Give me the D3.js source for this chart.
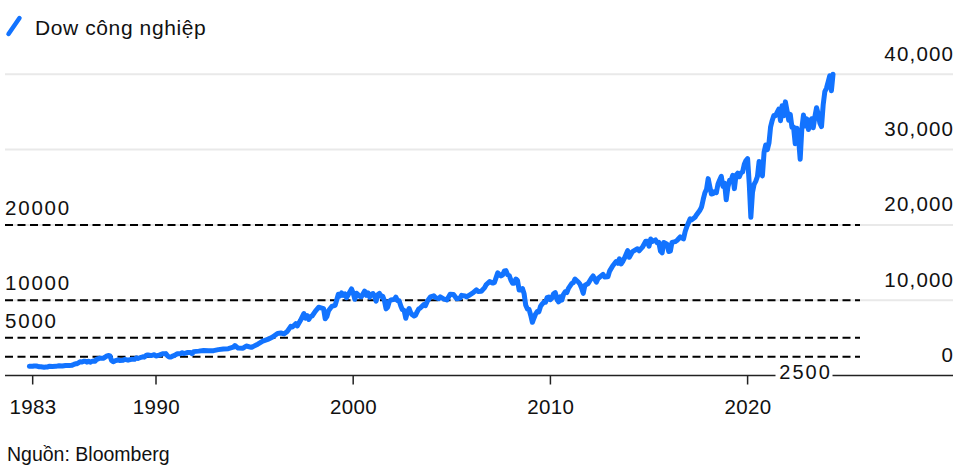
<!DOCTYPE html>
<html>
<head>
<meta charset="utf-8">
<script src="https://cdn.jsdelivr.net/npm/d3@7"></script>
<style>
  html, body { margin: 0; padding: 0; background: #fff; }
  svg { display: block; font-family: "Liberation Sans", Arial, Helvetica, sans-serif; }
</style>
</head>
<body>
<svg id="chart" width="975" height="474"></svg>
<script>
// ---- Data ----
const seriesName = "Dow công nghiệp";
const sourceText = "Nguồn: Bloomberg";

const months = [
  "1983-08","1983-09","1983-10","1983-11","1983-12",
  "1984-01","1984-02","1984-03","1984-05","1984-06","1984-07","1984-08","1984-10","1984-12",
  "1985-02","1985-04","1985-06","1985-08","1985-10","1985-11","1985-12",
  "1986-01","1986-02","1986-03","1986-04","1986-05","1986-06","1986-07","1986-08","1986-09","1986-10","1986-11","1986-12",
  "1987-01","1987-02","1987-03","1987-04","1987-05","1987-06","1987-07","1987-08","1987-09","1987-10","1987-11","1987-12",
  "1988-02","1988-03","1988-05","1988-06","1988-08","1988-10","1988-12",
  "1989-01","1989-02","1989-04","1989-05","1989-06","1989-07","1989-08","1989-09","1989-10","1989-12",
  "1990-01","1990-03","1990-05","1990-07","1990-08","1990-09","1990-10","1990-11","1990-12",
  "1991-02","1991-04","1991-05","1991-06","1991-08","1991-10","1991-11","1991-12",
  "1992-03","1992-06","1992-09","1992-12",
  "1993-03","1993-06","1993-09","1993-12",
  "1994-01","1994-03","1994-06","1994-08","1994-11","1994-12",
  "1995-03","1995-06","1995-09","1995-12",
  "1996-03","1996-05","1996-07","1996-09","1996-11","1996-12",
  "1997-02","1997-03","1997-05","1997-07","1997-08","1997-09","1997-10","1997-11","1997-12",
  "1998-02","1998-04","1998-06","1998-07","1998-08","1998-09","1998-10","1998-12",
  "1999-02","1999-04","1999-05","1999-06","1999-07","1999-08","1999-09","1999-10","1999-12",
  "2000-01","2000-02","2000-03","2000-04","2000-05","2000-06","2000-08","2000-09","2000-10","2000-11","2000-12",
  "2001-01","2001-02","2001-03","2001-04","2001-05","2001-06","2001-07","2001-08","2001-09","2001-10","2001-11","2001-12",
  "2002-02","2002-03","2002-04","2002-05","2002-06","2002-07","2002-08","2002-09","2002-10","2002-11","2002-12",
  "2003-01","2003-02","2003-03","2003-04","2003-05","2003-06","2003-08","2003-09","2003-10","2003-12",
  "2004-02","2004-03","2004-05","2004-06","2004-08","2004-10","2004-12",
  "2005-02","2005-04","2005-06","2005-07","2005-09","2005-10","2005-12",
  "2006-02","2006-04","2006-05","2006-07","2006-09","2006-10","2006-12",
  "2007-02","2007-03","2007-05","2007-07","2007-08","2007-09","2007-10","2007-11","2007-12",
  "2008-01","2008-02","2008-03","2008-04","2008-05","2008-06","2008-07","2008-08","2008-09","2008-10","2008-11","2008-12",
  "2009-01","2009-02","2009-03","2009-04","2009-05","2009-06","2009-07","2009-08","2009-09","2009-10","2009-11","2009-12",
  "2010-01","2010-02","2010-03","2010-04","2010-05","2010-06","2010-07","2010-08","2010-09","2010-10","2010-11","2010-12",
  "2011-02","2011-03","2011-04","2011-06","2011-07","2011-08","2011-09","2011-10","2011-12",
  "2012-02","2012-03","2012-05","2012-06","2012-09","2012-10","2012-12",
  "2013-01","2013-03","2013-05","2013-06","2013-07","2013-08","2013-09","2013-10","2013-12",
  "2014-01","2014-03","2014-06","2014-07","2014-09","2014-11","2014-12",
  "2015-01","2015-02","2015-03","2015-05","2015-06","2015-07","2015-08","2015-09","2015-10","2015-12",
  "2016-01","2016-02","2016-03","2016-05","2016-06","2016-08","2016-10","2016-11","2016-12",
  "2017-02","2017-03","2017-05","2017-06","2017-08","2017-09","2017-10","2017-11","2017-12",
  "2018-01","2018-02","2018-03","2018-04","2018-05","2018-06","2018-07","2018-08","2018-09","2018-10","2018-11","2018-12",
  "2019-01","2019-02","2019-03","2019-04","2019-05","2019-06","2019-07","2019-08","2019-09","2019-10","2019-11","2019-12",
  "2020-01","2020-02","2020-03","2020-04","2020-05","2020-06","2020-07","2020-08","2020-09","2020-10","2020-11","2020-12",
  "2021-01","2021-02","2021-03","2021-04","2021-05","2021-06","2021-07","2021-08","2021-09","2021-10","2021-11","2021-12",
  "2022-01","2022-02","2022-03","2022-04","2022-05","2022-06","2022-07","2022-08","2022-09","2022-10","2022-11","2022-12",
  "2023-01","2023-02","2023-03","2023-04","2023-05","2023-06","2023-07","2023-08","2023-09","2023-10","2023-11","2023-12",
  "2024-01","2024-02","2024-03","2024-04","2024-05"
];

const dowValues = [
  1216,1233,1225,1276,1258,
  1220,1155,1164,1105,1132,1115,1224,1207,1212,
  1284,1258,1336,1334,1374,1472,1547,
  1571,1709,1819,1784,1877,1893,1775,1898,1768,1878,1914,1896,
  2158,2224,2305,2286,2292,2419,2572,2663,2596,1994,1834,1939,
  2072,1988,2031,2142,2032,2149,2169,
  2342,2258,2419,2480,2440,2661,2737,2693,2645,2753,
  2591,2707,2877,2905,2614,2453,2442,2560,2634,
  2882,2888,3028,2907,3044,3069,2895,3169,
  3236,3319,3272,3301,
  3436,3516,3555,3754,
  3978,3636,3625,3913,3739,3834,
  4158,4556,4789,5117,
  5588,5643,5529,5882,6522,6448,
  6878,6583,7331,8223,7622,7945,7442,7823,7908,
  8546,9063,8952,8883,7539,7843,8592,9181,
  9307,10789,10560,10971,10655,10829,10337,10729,11497,
  10941,10128,10922,10734,10522,10448,11215,10651,10971,10415,10787,
  10887,10495,9879,10735,10912,10502,10523,9950,8848,9075,9852,10022,
  10106,10404,9946,9925,9243,8737,8664,7592,8397,8896,8342,
  8054,7891,7992,8480,8850,8985,9416,9275,9801,10454,
  10584,10358,10188,10435,10174,10027,10783,
  10766,10193,10275,10641,10569,10440,10718,
  10993,11367,11168,11185,11679,12081,12463,
  12269,12354,13628,13212,13358,13896,13930,13372,13265,
  12650,12266,12263,12820,12638,11350,11378,11544,10851,9325,8829,8776,
  8001,7063,7609,8168,8500,8447,9172,9496,9712,9713,10345,10428,
  10067,10325,10857,11009,10137,9774,10466,10015,10788,11118,11006,11578,
  12226,12320,12811,12414,12143,11614,10913,11955,12218,
  12952,13212,12393,12880,13437,13096,13104,
  13861,14579,15116,14910,15500,14810,15130,15546,16577,
  15699,16458,16827,16563,17043,17828,17823,
  17165,18133,17776,18011,17620,17690,16528,16285,17664,17425,
  16466,16517,17685,17787,17930,18401,18142,19124,19763,
  20812,20663,21009,21350,21948,22405,23377,24272,24719,
  26149,25029,24103,24163,24416,24271,25415,25965,26458,25116,25538,23327,
  25000,25916,25929,26593,24815,26600,26864,26403,26917,27046,28051,28538,
  28800,25409,21000,24346,25383,25813,26428,28430,27782,26502,29639,30606,
  29983,30932,32982,33875,34529,34503,34935,35361,33844,35820,34484,36338,
  35132,33893,34678,32977,32990,30775,32845,31510,28726,32733,34590,33147,
  34086,32657,33274,34098,32908,34408,35560,34722,33508,33053,35951,37690,
  38150,38996,39807,37816,40000
];

const yTicks = [0, 10000, 20000, 30000, 40000];
const xTickDates = ["1983-10", "1990-01", "2000-01", "2010-01", "2020-01"];
const xTickLabels = ["1983", "1990", "2000", "2010", "2020"];
const refLevels = [20000, 10000, 5000, 2500];
const refLabels = ["20000", "10000", "5000", "2500"];

// ---- Drawing ----
const svg = d3.select("#chart");
const parse = d3.utcParse("%Y-%m");
const data = months.map((m, i) => ({ date: parse(m), value: dowValues[i] }));

const x = d3.scaleUtc()
  .domain([parse("1990-01"), parse("2020-01")])
  .range([156, 747.6]);
const y = d3.scaleLinear().domain([0, 40000]).range([375.5, 74.3]);

const left = 5, right = 953, dashEnd = 860;
const blue = "#1273ff";
const ink = "#111";

// gridlines
svg.append("g").selectAll("line")
  .data(yTicks.filter(d => d !== 0))
  .join("line")
  .attr("x1", left).attr("x2", right)
  .attr("y1", d => y(d)).attr("y2", d => y(d))
  .attr("stroke", "#e9e9e9").attr("stroke-width", 2);

// right value labels
svg.append("g").selectAll("text")
  .data(yTicks)
  .join("text")
  .attr("x", right + 1.2)
  .attr("y", d => y(d) - 13.5)
  .attr("text-anchor", "end")
  .attr("font-size", 20.5)
  .attr("letter-spacing", 1.2)
  .attr("fill", ink)
  .text(d => d3.format(",")(d));

// dashed reference lines
svg.append("g").selectAll("line")
  .data(refLevels)
  .join("line")
  .attr("x1", left).attr("x2", dashEnd)
  .attr("y1", d => y(d)).attr("y2", d => y(d))
  .attr("stroke", "#000").attr("stroke-width", 2)
  .attr("stroke-dasharray", "8,4.5");

// left reference labels (first three)
svg.append("g").selectAll("text")
  .data(refLevels.slice(0, 3))
  .join("text")
  .attr("x", left)
  .attr("y", d => y(d) - 10)
  .attr("font-size", 20.5)
  .attr("letter-spacing", 1.8)
  .attr("fill", ink)
  .text((d, i) => refLabels[i]);

// the line
const line = d3.line().x(d => x(d.date)).y(d => y(d.value));
svg.append("path")
  .datum(data)
  .attr("fill", "none")
  .attr("stroke", blue)
  .attr("stroke-width", 5)
  .attr("stroke-linejoin", "round")
  .attr("stroke-linecap", "round")
  .attr("d", line);

// bottom axis line
svg.append("line")
  .attr("x1", left).attr("x2", right)
  .attr("y1", y(0)).attr("y2", y(0))
  .attr("stroke", "#222").attr("stroke-width", 1.5);

// x ticks
const xt = svg.append("g");
xTickDates.forEach((d, i) => {
  const px = x(parse(d));
  xt.append("line")
    .attr("x1", px).attr("x2", px)
    .attr("y1", y(0)).attr("y2", y(0) + 9)
    .attr("stroke", "#222").attr("stroke-width", 1.5);
  xt.append("text")
    .attr("x", px + 0.4)
    .attr("y", 414.3)
    .attr("text-anchor", "middle")
    .attr("font-size", 20.5)
    .attr("letter-spacing", 0.4)
    .attr("fill", ink)
    .text(xTickLabels[i]);
});

// "2500" label sitting on the axis line
const lbl2500 = svg.append("g");
lbl2500.append("rect")
  .attr("x", 775.5).attr("y", y(0) - 4)
  .attr("width", 57).attr("height", 8)
  .attr("fill", "#fff");
lbl2500.append("text")
  .attr("x", 779.3)
  .attr("y", 379.4)
  .attr("font-size", 20)
  .attr("letter-spacing", 2)
  .attr("fill", ink)
  .text(refLabels[3]);

// legend
svg.append("line")
  .attr("x1", 8.5).attr("y1", 34)
  .attr("x2", 19.5).attr("y2", 18)
  .attr("stroke", blue).attr("stroke-width", 4.5)
  .attr("stroke-linecap", "round");
svg.append("text")
  .attr("x", 35).attr("y", 35)
  .attr("font-size", 21)
  .attr("letter-spacing", 0.6)
  .attr("fill", ink)
  .text(seriesName);

// source
svg.append("text")
  .attr("x", 7).attr("y", 461)
  .attr("font-size", 19.5)
  .attr("fill", ink)
  .text(sourceText);
</script>
</body>
</html>
